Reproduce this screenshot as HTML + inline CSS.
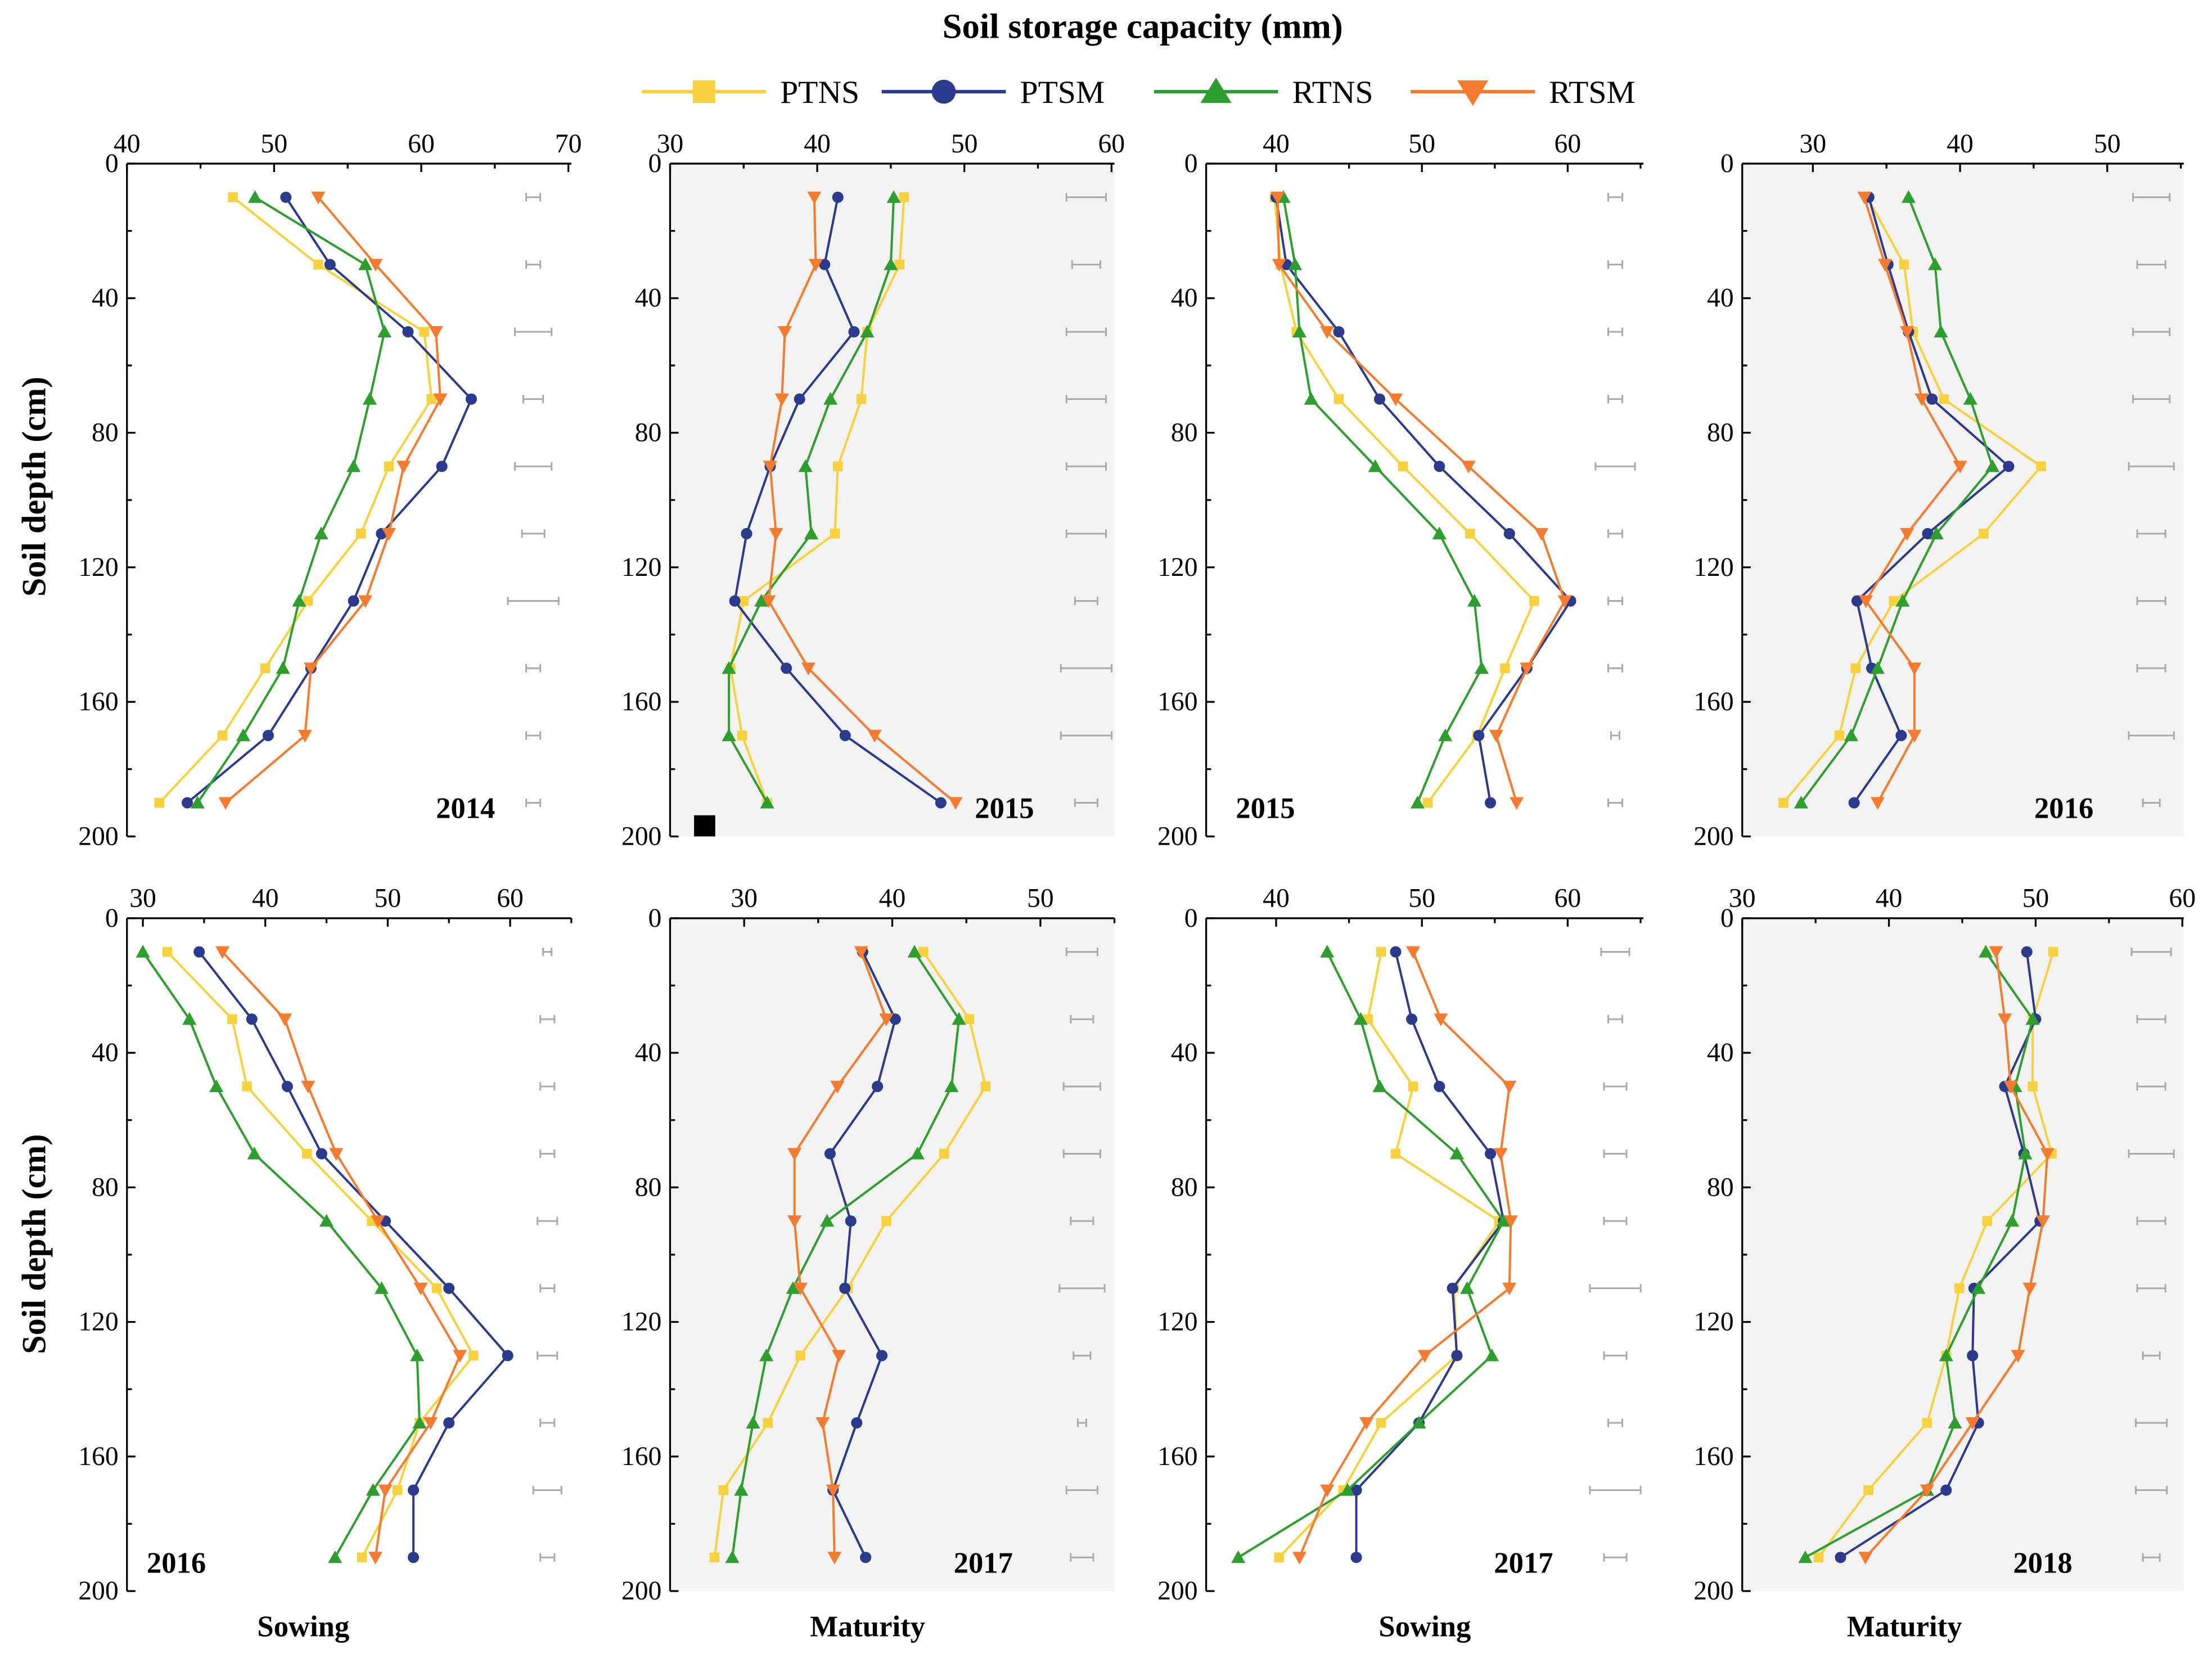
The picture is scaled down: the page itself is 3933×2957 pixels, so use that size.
<!DOCTYPE html>
<html><head><meta charset="utf-8"><style>
html,body{margin:0;padding:0;background:#fff}
svg{display:block}
text{font-family:"Liberation Serif",serif}
</style></head><body>
<svg id="chart" xmlns="http://www.w3.org/2000/svg" width="3933" height="2957" viewBox="0 0 1568 1179" preserveAspectRatio="none">
<text x="810" y="27" text-anchor="middle" font-size="25" font-weight="bold">Soil storage capacity  (mm)</text>
<g id="legend"></g>
<g id="panels"></g>
<text transform="translate(32,345) rotate(-90)" text-anchor="middle" font-size="24" font-weight="bold">Soil depth  (cm)</text>
<text transform="translate(32,882) rotate(-90)" text-anchor="middle" font-size="24" font-weight="bold">Soil depth  (cm)</text>
<text x="215" y="1160" text-anchor="middle" font-size="21" font-weight="bold">Sowing</text>
<text x="615" y="1160" text-anchor="middle" font-size="21" font-weight="bold">Maturity</text>
<text x="1010" y="1160" text-anchor="middle" font-size="21" font-weight="bold">Sowing</text>
<text x="1350" y="1160" text-anchor="middle" font-size="21" font-weight="bold">Maturity</text>
</svg>
<script>
const depths=[10,30,50,70,90,110,130,150,170,190];
const seriesNames=["PTNS","PTSM","RTNS","RTSM"];
const p1PTNS=[47.2,53,60.2,60.7,57.8,55.9,52.3,49.4,46.5,42.2];
const p1PTSM=[50.8,53.8,59.1,63.4,61.4,57.3,55.4,52.5,49.6,44.1];
const p1RTNS=[48.7,56.2,57.5,56.5,55.4,53.2,51.7,50.6,47.9,44.8];
const p1RTSM=[53,56.9,61,61.3,58.8,57.8,56.2,52.5,52.1,46.7];
const p2PTNS=[45.9,45.6,43.4,43,41.4,41.2,35,34.1,34.9,36.6];
const p2PTSM=[41.4,40.5,42.5,38.8,36.8,35.2,34.4,37.9,41.9,48.4];
const p2RTNS=[45.2,45,43.4,40.9,39.2,39.6,36.2,34,34,36.6];
const p2RTSM=[39.8,39.9,37.8,37.6,36.8,37.2,36.7,39.4,43.9,49.4];
const p3PTNS=[39.9,40.3,41.4,44.3,48.7,53.3,57.7,55.7,53.8,50.4];
const p3PTSM=[40,40.7,44.3,47.1,51.2,56,60.2,57.2,53.9,54.7];
const p3RTNS=[40.5,41.3,41.6,42.4,46.8,51.2,53.6,54.1,51.6,49.7];
const p3RTSM=[40.1,40.2,43.5,48.2,53.2,58.2,59.8,57.2,55.1,56.5];
const p4PTNS=[33.7,36.2,36.8,38.9,45.5,41.6,35.5,32.9,31.8,28];
const p4PTSM=[33.8,35.1,36.5,38.1,43.3,37.8,33,34,36,32.8];
const p4RTNS=[36.5,38.3,38.7,40.7,42.2,38.4,36.1,34.4,32.6,29.2];
const p4RTSM=[33.5,34.9,36.4,37.4,40,36.4,33.6,36.9,36.9,34.4];
const p5PTNS=[32,37.3,38.5,43.4,48.7,54,57,52.6,50.8,47.9];
const p5PTSM=[34.6,38.9,41.8,44.6,49.8,55,59.8,55,52.1,52.1];
const p5RTNS=[30,33.8,36,39.1,45,49.5,52.4,52.6,48.8,45.7];
const p5RTSM=[36.5,41.6,43.5,45.8,49.2,52.7,55.9,53.5,49.8,49];
const p6PTNS=[42.1,45.2,46.3,43.5,39.6,37,33.8,31.6,28.6,28];
const p6PTSM=[38,40.2,39,35.8,37.2,36.8,39.3,37.6,36,38.2];
const p6RTNS=[41.5,44.5,44,41.7,35.6,33.3,31.5,30.6,29.8,29.2];
const p6RTSM=[37.9,39.6,36.3,33.4,33.4,33.8,36.4,35.3,36,36.1];
const p7PTNS=[47.2,46.3,49.4,48.2,55.3,52.2,52.4,47.2,44.6,40.2];
const p7PTSM=[48.2,49.3,51.2,54.7,55.6,52.1,52.4,49.8,45.5,45.5];
const p7RTNS=[43.5,45.8,47.1,52.4,55.6,53.1,54.8,49.8,44.9,37.4];
const p7RTSM=[49.4,51.3,56,55.4,56.1,56,50.2,46.2,43.5,41.6];
const p8PTNS=[51.2,49.8,49.8,51.1,46.7,44.8,43.9,42.6,38.6,35.2];
const p8PTSM=[49.4,50,47.9,49.2,50.3,45.8,45.7,46.1,43.9,36.7];
const p8RTNS=[46.6,49.8,48.6,49.3,48.4,46.1,43.9,44.5,42.6,34.3];
const p8RTSM=[47.3,47.9,48.3,50.8,50.5,49.6,48.8,45.7,42.6,38.4];
const errHalf1=[5,5,13,7,13,8,18,5,5,5];
const errHalf2=[14,10,14,14,14,14,8,18,18,8];
const errHalf3=[5,5,5,5,14,5,5,5,3,5];
const errHalf4=[13,10,13,13,16,10,10,10,16,6];
const errHalf5=[3,5,5,5,7,5,7,5,10,5];
const errHalf6=[11,8,13,13,8,16,6,3,11,8];
const errHalf7=[10,5,8,8,8,18,8,5,18,8];
const errHalf8=[14,10,10,16,10,10,6,11,11,6];

const colors=["#f7d23e","#2b3a8c","#2e9e2e","#f77b2f"];
const NS="http://www.w3.org/2000/svg";
function mk(tag,attrs,parent){const e=document.createElementNS(NS,tag);for(const k in attrs)e.setAttribute(k,attrs[k]);parent.appendChild(e);return e;}

const panels=[
 {x0:90,x1:405,top:116,xmin:40,xmax:70.2,ticks:[40,50,60,70],grey:false,year:"2014",yx:330,ex:378,series:[p1PTNS,p1PTSM,p1RTNS,p1RTSM],err:errHalf1},
 {x0:475,x1:790,top:116,xmin:30,xmax:60.2,ticks:[30,40,50,60],grey:true,year:"2015",yx:712,ex:770,series:[p2PTNS,p2PTSM,p2RTNS,p2RTSM],err:errHalf2,sq:true},
 {x0:855,x1:1165,top:116,xmin:35.2,xmax:65.2,ticks:[40,50,60],grey:false,year:"2015",yx:897,ex:1145,series:[p3PTNS,p3PTSM,p3RTNS,p3RTSM],err:errHalf3},
 {x0:1235,x1:1548,top:116,xmin:25.2,xmax:55.2,ticks:[30,40,50],grey:true,year:"2016",yx:1463,ex:1525,series:[p4PTNS,p4PTSM,p4RTNS,p4RTSM],err:errHalf4},
 {x0:90,x1:405,top:651,xmin:28.7,xmax:65,ticks:[30,40,50,60],grey:false,year:"2016",yx:125,ex:388,series:[p5PTNS,p5PTSM,p5RTNS,p5RTSM],err:errHalf5},
 {x0:475,x1:790,top:651,xmin:25,xmax:55,ticks:[30,40,50],grey:true,year:"2017",yx:697,ex:767,series:[p6PTNS,p6PTSM,p6RTNS,p6RTSM],err:errHalf6},
 {x0:855,x1:1165,top:651,xmin:35.2,xmax:65.2,ticks:[40,50,60],grey:false,year:"2017",yx:1080,ex:1145,series:[p7PTNS,p7PTSM,p7RTNS,p7RTSM],err:errHalf7},
 {x0:1235,x1:1548,top:651,xmin:30,xmax:60.1,ticks:[30,40,50,60],grey:true,year:"2018",yx:1448,ex:1525,series:[p8PTNS,p8PTSM,p8RTNS,p8RTSM],err:errHalf8}
];
const DH=477;
function marker(g,shape,x,y,c){
 if(shape===0)return mk("rect",{x:x-3.5,y:y-3.5,width:7,height:7,fill:c},g);
 if(shape===1)return mk("circle",{cx:x,cy:y,r:4,fill:c},g);
 if(shape===2)return mk("polygon",{points:`${x},${y-5} ${x-5},${y+4} ${x+5},${y+4}`,fill:c},g);
 return mk("polygon",{points:`${x-5},${y-4} ${x+5},${y-4} ${x},${y+5}`,fill:c},g);
}
const root=document.getElementById("panels");
panels.forEach((p,i)=>{
 const g=mk("g",{},root);
 
 
 const sx=v=>p.x0+(v-p.xmin)/(p.xmax-p.xmin)*(p.x1-p.x0);
 const sy=d=>p.top+d/200*DH;
 if(p.grey){const bg=mk("rect",{x:p.x0,y:p.top,width:p.x1-p.x0,height:DH,fill:"#f3f3f3"},g);
  
  }
 const ax=mk("g",{stroke:"#000","stroke-width":1.3},g);
 
 
 mk("line",{x1:p.x0,y1:p.top,x2:p.x1,y2:p.top},ax);
 mk("line",{x1:p.x0,y1:p.top,x2:p.x0,y2:p.top+DH},ax);
 for(let d=0;d<=200;d+=20){mk("line",{x1:p.x0,y1:sy(d),x2:p.x0+(d%40===0?6:3.5),y2:sy(d)},ax);}
 for(let d=0;d<=200;d+=40){const t=mk("text",{x:p.x0-6,y:sy(d)+6,"text-anchor":"end","font-size":19},g);t.textContent=d;
  
  }
 const step=p.ticks[1]-p.ticks[0];
 for(let v=p.ticks[0]-step/2;v<=p.xmax+0.01;v+=step/2){if(v<p.xmin)continue;const major=p.ticks.some(t=>Math.abs(t-v)<0.01);
  mk("line",{x1:sx(v),y1:p.top,x2:sx(v),y2:p.top+(major?6:3.5)},ax);}
 p.ticks.forEach(v=>{const t=mk("text",{x:sx(v),y:p.top-8,"text-anchor":"middle","font-size":19},g);t.textContent=v;
  
  });
 const eg=mk("g",{stroke:"#aaa","stroke-width":1.2},g);
 
 
 depths.forEach((d,k)=>{const y=sy(d),h=p.err[k];
  mk("line",{x1:p.ex-h,y1:y,x2:p.ex+h,y2:y},eg);
  mk("line",{x1:p.ex-h,y1:y-3,x2:p.ex-h,y2:y+3},eg);
  mk("line",{x1:p.ex+h,y1:y-3,x2:p.ex+h,y2:y+3},eg);});
 p.series.forEach((vals,s)=>{
  const sg=mk("g",{},g);
  
  
  mk("polyline",{points:vals.map((v,k)=>sx(v)+","+sy(depths[k])).join(" "),fill:"none",stroke:colors[s],"stroke-width":1.6},sg);
  vals.forEach((v,k)=>{const m=marker(sg,s,sx(v),sy(depths[k]),colors[s]);
   
   });
 });
 const yt=mk("text",{x:p.yx,y:p.top+464,"text-anchor":"middle","font-size":21,"font-weight":"bold"},g);
 yt.textContent=p.year;
 
 
 if(p.sq){const r=mk("rect",{x:492,y:578,width:15,height:15,fill:"#000"},g);
  
  }
});
const lg=document.getElementById("legend");
const lx=[455,625,818,1000];
seriesNames.forEach((n,s)=>{
 const e=mk("g",{},lg);
 
 
 mk("line",{x1:lx[s],y1:65,x2:lx[s]+88,y2:65,stroke:colors[s],"stroke-width":2.5},e);
 const c=colors[s],x=lx[s]+44,y=65;
 if(s===0)mk("rect",{x:x-8,y:y-8,width:16,height:16,fill:c},e);
 else if(s===1)mk("circle",{cx:x,cy:y,r:8.5,fill:c},e);
 else if(s===2)mk("polygon",{points:`${x},${y-10} ${x-11},${y+8} ${x+11},${y+8}`,fill:c},e);
 else mk("polygon",{points:`${x-11},${y-8} ${x+11},${y-8} ${x},${y+10}`,fill:c},e);
 const t=mk("text",{x:lx[s]+98,y:73,"font-size":23},e);t.textContent=n;
});
</script>
</body></html>
